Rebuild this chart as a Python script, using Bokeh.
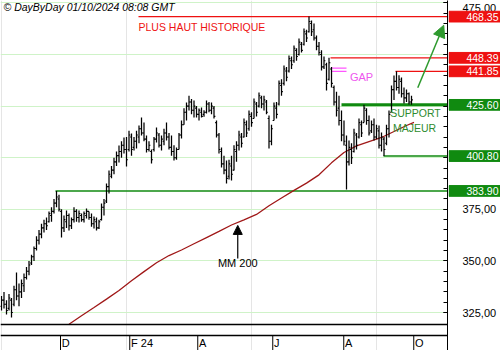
from bokeh.plotting import figure
from bokeh.layouts import row
from bokeh.models import Range1d, FixedTicker, Arrow, NormalHead, ColumnDataSource, Span
from bokeh.embed import file_html
from bokeh.resources import INLINE
from bokeh.core.properties import value

# ---------------- data ----------------
hi = [333, 335, 331, 334, 332, 338, 344.4, 339, 341, 343.9,
      347, 350, 353, 357, 362, 365, 368, 370, 371, 374,
      376, 380, 383.9, 382, 375, 372, 374.4, 373, 371, 376,
      375, 374.4, 373, 374, 375.4, 374, 373, 371.5, 371, 370,
      377.8, 380, 387.5, 393.8, 396, 400, 403, 405.9, 408, 409.8,
      410, 413, 411.7, 410, 413, 415.6, 419.5, 417, 410.8, 408,
      404, 410, 414.6, 412, 410.8, 414, 417, 412, 410.8, 406,
      405, 412, 418, 424, 426.7, 430, 428.5, 427.7, 425, 423.8,
      424.3, 423, 427.7, 427, 426.7, 425, 418, 412, 404.9, 401,
      398.6, 399, 401, 406, 408, 413, 412, 419, 418, 422.9,
      422, 428.7, 427, 431.6, 430, 430, 428, 420.4, 416, 426.7,
      427, 437.4, 438, 444.7, 444, 449.5, 449, 454.4, 453, 457.8,
      456, 462.6, 462, 468.35, 466.5, 465, 459.2, 456, 452, 449,
      446, 448.39, 444, 435, 432, 430, 422.9, 418, 410.8, 408.3,
      407, 414, 412, 419, 418, 425.6, 424, 420.4, 418, 419,
      416, 415.6, 412.2, 410, 416, 422.9, 435, 439.8, 441.85, 440,
      438.9, 434, 433, 431.6, 430]
lo = [326, 327, 324, 326, 322.6, 328, 331, 328, 332, 335,
      341, 343, 348, 350, 355, 358, 361, 363.8, 365, 368.6,
      369, 373, 376, 374, 361.3, 364, 366, 364.7, 365.5, 368.6,
      369, 368.6, 369, 368.6, 370.5, 370, 366.5, 365.7, 364.7, 365.5,
      369.6, 372, 378, 382.7, 390, 392, 396, 397.7, 400, 402,
      395.7, 403, 401, 403.5, 404.5, 407, 410.8, 408, 402.5, 403,
      397.2, 403, 407.4, 405, 403.5, 406, 408.3, 404, 401, 398.6,
      399, 404, 409.3, 416, 418, 422.9, 421, 419.5, 419.5, 418,
      419.5, 419.8, 421.4, 422, 421, 419, 409.8, 402, 395.2, 392,
      387.5, 389.5, 389, 393.8, 398, 403.5, 405, 409.8, 410, 413,
      415, 419, 420, 424.3, 424, 422.9, 421, 404.5, 406, 418,
      419, 425.3, 430, 435, 437, 441.3, 443, 446, 447, 449.5,
      451, 454.4, 456, 460.7, 459, 456.8, 452, 449.5, 442.2, 443,
      432.5, 437.4, 434, 425.3, 420, 415.6, 408, 405.9, 384.6, 396.2,
      397, 402.5, 404, 409.3, 410, 417, 416, 410.8, 412, 408.3,
      409, 404.5, 403, 400.8, 406, 409.8, 422, 428, 432.5, 431,
      429.2, 426.3, 427, 425.8, 425.6]
op = [328, 331, 329, 327, 331, 329, 336, 333, 335, 338,
      342, 345, 349, 352, 356, 360, 363, 366, 368, 369,
      372, 374, 378, 380, 374, 366, 369, 372, 367, 370,
      374, 371, 372, 370, 372, 374, 371, 368, 369, 366,
      370, 376, 379, 386, 391, 394, 398, 401, 403, 406,
      404, 404, 410, 405, 408, 410, 414, 412, 409, 404,
      403, 404, 409, 411, 406, 408, 412, 410, 405, 403,
      400, 404, 411, 416, 422, 425, 427, 423, 424, 421,
      422, 421, 422, 426, 423, 424, 417, 411, 403, 397,
      394, 391, 396, 394, 403, 406, 410, 410, 416, 414,
      420, 419, 426, 425, 429, 426, 427, 419, 408, 418,
      424, 426, 435, 436, 442, 442, 447, 447, 452, 450,
      455, 455, 460, 461, 465, 462, 458, 454, 450, 444,
      445, 438, 443, 434, 427, 424, 418, 411, 406, 398,
      404, 403, 411, 410, 416, 417, 423, 418, 413, 416,
      410, 413, 406, 409, 407, 414, 422, 433, 437, 434,
      437, 431, 429, 431, 427]
cl = [331, 329, 326, 332, 325, 336, 333, 335, 339, 342,
      345, 348, 352, 356, 360, 363, 366, 368, 367, 373,
      374, 378, 381, 375, 366, 370, 372, 367, 370, 374,
      371, 373, 370, 373, 374, 371, 368, 370, 366, 369,
      376, 378, 386, 392, 394, 398, 401, 403, 406, 404,
      399, 411, 404, 408, 411, 414, 412, 409, 404, 406,
      399, 409, 412, 406, 409, 412, 410, 405, 403, 400,
      404, 411, 416, 422, 425, 427, 423, 425, 421, 423,
      420, 422, 426, 423, 425, 420, 411, 404, 397, 394,
      390, 397, 392, 404, 406, 411, 407, 417, 412, 421,
      417, 427, 422, 430, 426, 428, 422, 408, 414, 425,
      421, 436, 432, 443, 439, 448, 445, 453, 449, 456,
      452, 461, 458, 466, 461, 458, 454, 451, 444, 447,
      436, 446, 436, 427, 423, 418, 411, 408, 398, 405,
      400, 412, 406, 417, 412, 424, 418, 412, 416, 410,
      414, 406, 410, 404, 414, 421, 433, 437, 434, 438,
      431, 429, 431, 427, 428]

ma_bar = [27, 32, 37, 42, 47, 52, 57, 62, 67, 72, 77, 82, 87, 92, 97,
          102, 107, 112, 117, 122, 127, 132, 137, 142, 147, 152, 157, 162, 165]
ma_val = [319.3, 323.4, 327.4, 331.5, 335.7, 340.4, 344.8, 349.1, 352.6, 355.3,
          358.3, 361.3, 364.3, 367.4, 369.9, 372.5, 376.7, 380.5, 384.2, 387.7,
          391.7, 397.5, 402.5, 405.7, 407.8, 409.8, 412.7, 415.6, 417.1]

month_labels = ["D", "F 24", "A", "J", "A", "O"]
month_start = [23.6, 51.3, 78.5, 108.5, 136.9, 164.9]

y_ticks = [325, 350, 375, 400, 425, 450, 475]
y_tick_labels = ["325,00", "350,00", "375,00", "400,00", "425,00", "450,00", "475,00"]

levels = [468.35, 448.39, 441.85, 425.60, 400.80, 383.90]
level_labels = ["468.35", "448.39", "441.85", "425.60", "400.80", "383.90"]
level_kind = ["r", "r", "r", "s", "s", "s"]
gap_bounds = [443.4, 441.8]

# ---------------- layout / styles ----------------
FONT = "Liberation Sans"
RED = "#ee1111"
GREEN = "#108a10"
X0, X1 = -0.4, 178.4
Y0, Y1 = 306.6, 476.16
FLOOR = 319.19      # bottom line of price panel
AXLINE = 313.86     # line above month labels
BOX_H = 2.6         # half height of the value boxes, in price units

yr = Range1d(Y0, Y1)
p = figure(width=448, height=350, output_backend="svg", toolbar_location=None,
           x_range=Range1d(X0, X1), y_range=yr,
           y_axis_location="right", x_axis_location=None,
           min_border_left=0, min_border_right=1, min_border_top=0, min_border_bottom=0)
p.outline_line_color = None
p.background_fill_color = "white"
p.border_fill_color = "white"

ax = p.yaxis[0]
ax.ticker = FixedTicker(ticks=y_ticks, minor_ticks=list(range(325, 480, 5)))
ax.major_label_overrides = {t: "" for t in y_ticks}
ax.major_label_text_font_size = "0px"
ax.major_label_standoff = 0
ax.major_tick_in = 4
ax.major_tick_out = 0
ax.minor_tick_in = 4
ax.minor_tick_out = 0
ax.axis_line_color = "black"
ax.major_tick_line_color = "black"
ax.minor_tick_line_color = "black"

p.ygrid.grid_line_color = "#cff3c8"
p.ygrid.grid_line_width = 1

# frame lines
p.add_layout(Span(location=FLOOR, dimension="width", line_color="black", line_width=1.3))
p.add_layout(Span(location=AXLINE, dimension="width", line_color="black", line_width=1.3))

# month separators and labels
ms = ColumnDataSource(dict(x=month_start, lab=month_labels,
                           lx=[m + 0.5 for m in month_start]))
p.segment(x0="x", y0=AXLINE, x1="x", y1=Y0, source=ms, line_color="black", line_width=1)
p.text(x="lx", y=310.1, text="lab", source=ms, text_font=value(FONT),
       text_font_size="11px", text_baseline="middle", text_align="left", text_color="black")

# level lines
lv_x0 = [54.8, 131.6, 157.6, 136.0, 152.8, 21.6]
lv_w = [1.3, 1.3, 1.3, 3.0, 1.5, 1.5]
for lv, k, x0, w in zip(levels, level_kind, lv_x0, lv_w):
    p.segment(x0=[x0], y0=[lv], x1=[X1], y1=[lv], line_color=RED if k == "r" else GREEN,
              line_width=w)

# gap marker
p.segment(x0=[131.9, 131.9], y0=gap_bounds, x1=[138.0, 138.0], y1=gap_bounds,
          line_color="#ff55ff", line_width=1.3)

# moving average
p.line(ma_bar, ma_val, line_color="#a01818", line_width=1.3)

# OHLC bars
idx = list(range(len(hi)))
src = ColumnDataSource(dict(x=idx, hi=hi, lo=lo, op=op, cl=cl,
                            xl=[i - 0.55 for i in idx], xr=[i + 0.55 for i in idx]))
p.segment(x0="x", y0="lo", x1="x", y1="hi", source=src, line_color="black", line_width=1.25)
p.segment(x0="xl", y0="op", x1="x", y1="op", source=src, line_color="black", line_width=1.1)
p.segment(x0="x", y0="cl", x1="xr", y1="cl", source=src, line_color="black", line_width=1.1)

# annotations text
p.text(x=[54.8], y=[463.1], text=["PLUS HAUT HISTORIQUE"], text_font=value(FONT),
       text_font_size="10.5px", text_color=RED, text_baseline="middle", text_align="left")
p.text(x=[144.0], y=[439.0], text=["GAP"], text_font=value(FONT),
       text_font_size="11px", text_color="#ee55ee", text_baseline="middle", text_align="center")
p.text(x=[165.6, 165.2], y=[421.7, 414.6], text=["SUPPORT", "MAJEUR"], text_font=value(FONT),
       text_font_size="10.5px", text_color="#2e8b2e", text_baseline="middle", text_align="center")
p.text(x=[94.5], y=[349.0], text=["MM 200"], text_font=value(FONT),
       text_font_size="11px", text_color="black", text_baseline="middle", text_align="center")
p.text(x=[0.8], y=[475.7], text=["\u00a9 DayByDay 01/10/2024  08:08 GMT"], text_font=value(FONT),
       text_font_size="10.5px", text_font_style="italic", text_color="black",
       text_baseline="top", text_align="left")

# arrows
p.add_layout(Arrow(x_start=94.5, y_start=351.2, x_end=94.5, y_end=367.2,
                   line_color="black", line_width=1.2,
                   end=NormalHead(size=9, fill_color="black", line_color="black")))
p.add_layout(Arrow(x_start=166.5, y_start=433.9, x_end=176.9, y_end=464.2,
                   line_color="#2e9a2e", line_width=1.5,
                   end=NormalHead(size=12, fill_color="#2e9a2e", line_color="#2e9a2e")))

# ---------------- right scale panel (shares the price scale) ----------------
s = figure(width=52, height=350, output_backend="svg", toolbar_location=None,
           x_range=Range1d(0, 52), y_range=yr,
           x_axis_location=None, y_axis_location=None,
           min_border_left=0, min_border_right=0, min_border_top=0, min_border_bottom=0)
s.outline_line_color = None
s.background_fill_color = "white"
s.border_fill_color = "white"
s.xgrid.visible = False
s.ygrid.visible = False

# tick labels hidden behind a value box are left out (as in the reference);
# the top one is nudged down so it stays inside the picture
shown = [(t, lab) for t, lab in zip(y_ticks, y_tick_labels)
         if all(abs(t - lv) > 4 for lv in levels)]
s.text(x=[14] * len(shown), y=[min(t, Y1 - 3.4) for t, _ in shown],
       text=[lab for _, lab in shown], text_font=value(FONT),
       text_font_size="11px", text_color="black", text_baseline="middle", text_align="left")

box = ColumnDataSource(dict(
    lv=levels, lab=level_labels,
    top=[v + BOX_H for v in levels], bottom=[v - BOX_H for v in levels],
    col=[RED if k == "r" else GREEN for k in level_kind]))
s.quad(left=0.5, right=51.5, top="top", bottom="bottom", source=box,
       fill_color="col", line_color="col")
s.text(x=50, y="lv", text="lab", source=box, text_font=value(FONT),
       text_font_size="10.5px", text_color="white", text_baseline="middle", text_align="right")

open("out.html", "w").write(file_html(row(p, s, spacing=0), INLINE))
